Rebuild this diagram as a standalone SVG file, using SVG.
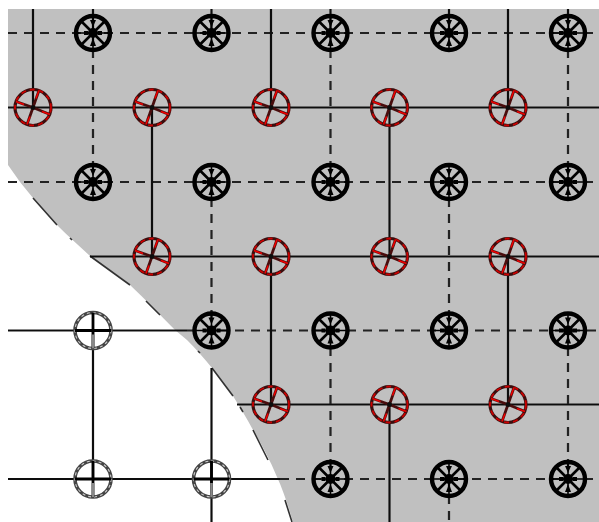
<svg xmlns="http://www.w3.org/2000/svg" width="599" height="522" viewBox="0 0 599 522">
<style>
.s{stroke:#111;stroke-width:2.2;fill:none}
.d{stroke:#222;stroke-width:2.2;fill:none;stroke-dasharray:9 7}
.b{stroke:#333;stroke-width:1.6;fill:none}
</style>
<defs>
<filter id="soft" x="-5%" y="-5%" width="110%" height="110%"><feGaussianBlur stdDeviation="0.55"/></filter>
<g id="k">
<circle r="17" fill="none" stroke="#000" stroke-width="4.4"/>
<path d="M-12-12L12 12M-12 12L12-12" stroke="#000" stroke-width="2.6" fill="none"/>
<path d="M-17 0H17M0-17V17" stroke="#000" stroke-width="1.6" fill="none"/>
<circle r="5" fill="#000"/>
<path d="M-3 13H3L0 5ZM-9-2H-5V2H-9ZM5-2H9V2H5ZM-3-13H3L0-6Z" fill="#000"/>
</g>
<g id="r">
<circle r="18" fill="none" stroke="#3a1010" stroke-width="3.2"/>
<circle r="18" fill="none" stroke="#c00" stroke-width="1.8" stroke-dasharray="5 4"/>
<path d="M0 0L6-17M0 0L-17-6M0 0L-6 17M0 0L17 7" stroke="#4a1010" stroke-width="2.8" fill="none"/>
<path d="M6-17L3-9M-17-6L-9-3M-6 17L-3 9M17 7L9 4" stroke="#e00" stroke-width="1.6" fill="none"/>
<circle r="2.5" fill="#111"/>
</g>
<g id="w">
<circle r="18" fill="none" stroke="#444" stroke-width="3.6"/>
<circle r="18" fill="none" stroke="#ccc" stroke-width="1.1" stroke-dasharray="3 3"/>
<path d="M-18 0H18M0-18V18" stroke="#000" stroke-width="2.8" fill="none"/>
<path d="M0 4V18" stroke="#888" stroke-width="2.6" fill="none"/>
</g>
</defs>
<rect width="599" height="522" fill="#fff"/>
<path id="area" d="M8 9H599V522H293C288 505 283 490 277 477C270 460 262 445 253 430C247 419 240 407 233 396C226 386 219 377 212 368C204 358 196 349 187 340L175 330C160 315 146 300 130 285C117 273 103 267 90 256C78 245 68 236 57 225C48 216 41 207 33 198L20 182L8 165Z" fill="#c0c0c0"/>
<g filter="url(#soft)">
<g id="edge" class="b">
<path d="M33 198L57 225M70 238L72 240M90 256L130 285M146 301L160 315M198 351L200 353M212 368L233 396M240 407L243 412M253 430L268 460M285 500L292 522"/>
</g>
<g id="connectors">
<path class="d" d="M8 33H599M8 182H599M187 330.5H599M280 479H599"/>
<path class="s" d="M8 107.5H599M90 256.5H599M237 404.5H599M8 330.5H187M8 479H280"/>
<path class="s" d="M33 9V107M93 9V33M93 331V479M152 107V256M211.5 9V33M211.5 368V522M271 9V107M271 256V405M330.5 9V33M389.5 107V256M389.5 405V522M449 9V33M508 9V107M508 256V405M568 9V33"/>
<path class="d" d="M93 33V182M211.5 182V331M330.5 33V182M330.5 331V479M449 182V331M449 479V522M568 33V182M568 331V479"/>
</g>
<g id="n-a1"><use href="#k" x="93" y="33"/></g>
<g id="n-a2"><use href="#k" x="211.5" y="33"/></g>
<g id="n-a3"><use href="#k" x="330.5" y="33"/></g>
<g id="n-a4"><use href="#k" x="449" y="33"/></g>
<g id="n-a5"><use href="#k" x="568" y="33"/></g>
<g id="n-b1"><use href="#k" x="93" y="182"/></g>
<g id="n-b2"><use href="#k" x="211.5" y="182"/></g>
<g id="n-b3"><use href="#k" x="330.5" y="182"/></g>
<g id="n-b4"><use href="#k" x="449" y="182"/></g>
<g id="n-b5"><use href="#k" x="568" y="182"/></g>
<g id="n-c1"><use href="#w" x="93" y="330.5"/></g>
<g id="n-c2"><use href="#k" x="211.5" y="330.5"/></g>
<g id="n-c3"><use href="#k" x="330.5" y="330.5"/></g>
<g id="n-c4"><use href="#k" x="449" y="330.5"/></g>
<g id="n-c5"><use href="#k" x="568" y="330.5"/></g>
<g id="n-d1"><use href="#w" x="93" y="479"/></g>
<g id="n-d2"><use href="#w" x="211.5" y="479"/></g>
<g id="n-d3"><use href="#k" x="330.5" y="479"/></g>
<g id="n-d4"><use href="#k" x="449" y="479"/></g>
<g id="n-d5"><use href="#k" x="568" y="479"/></g>
<g id="n-r1"><use href="#r" x="33" y="107.5"/></g>
<g id="n-r2"><use href="#r" x="152" y="107.5"/></g>
<g id="n-r3"><use href="#r" x="271" y="107.5"/></g>
<g id="n-r4"><use href="#r" x="389.5" y="107.5"/></g>
<g id="n-r5"><use href="#r" x="508" y="107.5"/></g>
<g id="n-r6"><use href="#r" x="152" y="256.5"/></g>
<g id="n-r7"><use href="#r" x="271" y="256.5"/></g>
<g id="n-r8"><use href="#r" x="389.5" y="256.5"/></g>
<g id="n-r9"><use href="#r" x="508" y="256.5"/></g>
<g id="n-r10"><use href="#r" x="271" y="404.5"/></g>
<g id="n-r11"><use href="#r" x="389.5" y="404.5"/></g>
<g id="n-r12"><use href="#r" x="508" y="404.5"/></g>
</g>
</svg>
